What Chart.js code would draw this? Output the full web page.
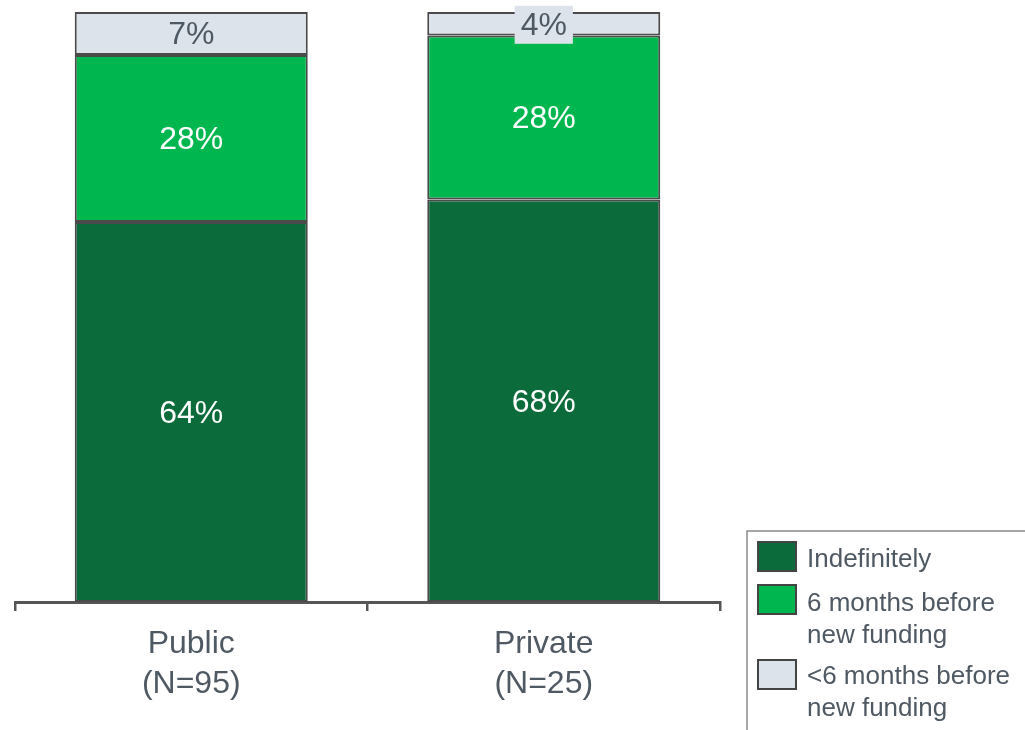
<!DOCTYPE html>
<html>
<head>
<meta charset="utf-8">
<script src="https://cdn.jsdelivr.net/npm/chart.js@4/dist/chart.umd.min.js"></script>
<style>
html,body{margin:0;padding:0;background:#fff;}
#wrap{width:1025px;height:730px;position:relative;}
</style>
</head>
<body>
<div id="wrap"><canvas id="c" width="1025" height="730"></canvas></div>
<script>
const categories = [["Public","(N=95)"],["Private","(N=25)"]];
const seriesNames = ["Indefinitely", "6 months before\nnew funding", "<6 months before\nnew funding"];
const indefinitely = [64.4, 68.2];
const sixMonths = [28.3, 27.8];
const lessSixMonths = [7.3, 4.0];
const colors = ["#0B6B3B", "#00B74F", "#DCE3EA"];
const labelColors = ["#ffffff", "#ffffff", "#4f5963"];
const textColor = "#4f5963";
const FONT = "'Liberation Sans', Arial, sans-serif";

const labelPlugin = {
  id: 'segLabels',
  afterDatasetsDraw(chart) {
    const ctx = chart.ctx;
    ctx.save();
    ctx.font = "32px " + FONT;
    ctx.textAlign = 'center';
    ctx.textBaseline = 'middle';
    chart.data.datasets.forEach((ds, di) => {
      const meta = chart.getDatasetMeta(di);
      meta.data.forEach((el, i) => {
        const v = ds.data[i];
        const txt = Math.round(v) + '%';
        const cy = (el.y + el.base) / 2;
        const h = Math.abs(el.base - el.y);
        if (h < 34) {
          const w = ctx.measureText(txt).width + 12;
          ctx.fillStyle = colors[di];
          ctx.fillRect(el.x - w/2, cy - 18, w, 38);
        }
        ctx.fillStyle = labelColors[di];
        ctx.fillText(txt, el.x, cy + 2);
      });
    });
    ctx.restore();
  }
};

const legendPlugin = {
  id: 'boxLegend',
  afterDraw(chart) {
    const ctx = chart.ctx;
    ctx.save();
    ctx.strokeStyle = '#8a8a8a';
    ctx.lineWidth = 1.5;
    ctx.beginPath();
    ctx.moveTo(747, 730);
    ctx.lineTo(747, 531);
    ctx.lineTo(1025, 531);
    ctx.stroke();
    const swY = [542, 585, 660];
    const baseY = [567, 611, 684];
    ctx.font = "26px " + FONT;
    ctx.textBaseline = 'alphabetic';
    ctx.textAlign = 'left';
    chart.data.datasets.forEach((ds, di) => {
      ctx.fillStyle = colors[di];
      ctx.fillRect(758, swY[di], 38, 29);
      ctx.strokeStyle = '#444';
      ctx.lineWidth = 2;
      ctx.strokeRect(758, swY[di], 38, 29);
      ctx.fillStyle = textColor;
      const lines = ds.label.split('\n');
      lines.forEach((ln, li) => {
        ctx.fillText(ln, 807, baseY[di] + li * 32);
      });
    });
    ctx.restore();
  }
};

new Chart(document.getElementById('c'), {
  type: 'bar',
  data: {
    labels: categories,
    datasets: [
      { label: seriesNames[0], data: indefinitely, backgroundColor: colors[0] },
      { label: seriesNames[1], data: sixMonths, backgroundColor: colors[1] },
      { label: seriesNames[2], data: lessSixMonths, backgroundColor: colors[2] }
    ].map(d => Object.assign(d, { borderColor: '#4a4a4a', borderWidth: 2, borderSkipped: false, categoryPercentage: 1, barPercentage: 0.661 }))
  },
  options: {
    responsive: false,
    animation: false,
    layout: { padding: { left: 15, right: 305, top: 12, bottom: 13 } },
    plugins: { legend: { display: false }, tooltip: { enabled: false } },
    scales: {
      x: {
        stacked: true,
        grid: { display: true, drawOnChartArea: false, drawTicks: true, tickLength: 9, color: '#555', lineWidth: 2.5, offset: true },
        border: { display: true, color: '#555', width: 3 },
        ticks: { color: textColor, font: { family: FONT, size: 32, lineHeight: 1.25 }, padding: 13 }
      },
      y: {
        stacked: true, display: false, min: 0, max: 100
      }
    }
  },
  plugins: [labelPlugin, legendPlugin]
});
</script>
</body>
</html>
